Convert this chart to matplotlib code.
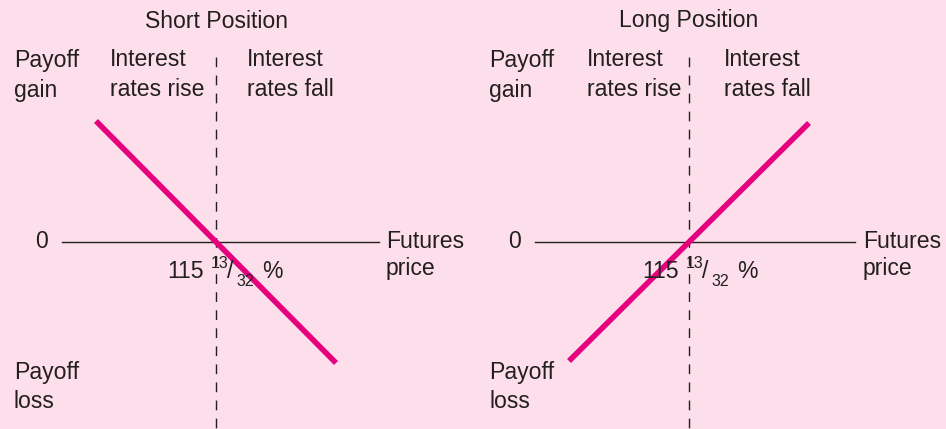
import matplotlib.pyplot as plt

plt.rcParams['font.family'] = ['Liberation Sans', 'DejaVu Sans']

# price measured from the 115 13/32 % strike, payoff in matching units
price_pts = [-120, 120]
short_payoff = [121, -121]
long_payoff = [-119, 119]
panels = [('Short Position', short_payoff), ('Long Position', long_payoff)]

bg = '#FCDFEA'
pink = '#E6007E'
ink = '#231F20'
fs = 16.6
small = 11.5

fig = plt.figure(figsize=(9.46, 4.29), dpi=100, facecolor=bg)

for k, (title, payoff) in enumerate(panels):
    ax = fig.add_axes([k * 0.5, 0, 0.5, 1])
    ax.set_facecolor(bg)
    ax.set_xlim(-216, 257)
    ax.set_ylim(-187, 242)
    ax.axis('off')
    dx = 2 * k

    ax.plot([-154, 163 + 3 * k], [0, 0], color=ink, lw=1)
    ax.plot([0, 0], [185, -190], color=ink, lw=1, ls=(0, (7, 6)))
    ax.plot(price_pts, payoff, color=pink, lw=4, solid_capstyle='butt')

    ax.text(0, 221, title, ha='center', va='center', fontsize=fs, color=ink)
    ax.text(-202 + dx, 182, 'Payoff', va='center', fontsize=fs, color=ink)
    ax.text(-202 + dx, 152, 'gain', va='center', fontsize=fs, color=ink)
    ax.text(-106 + dx * 2, 182, 'Interest', va='center', fontsize=fs, color=ink)
    ax.text(-106 + dx * 2, 152, 'rates rise', va='center', fontsize=fs, color=ink)
    ax.text(31 + dx * 2, 182, 'Interest', va='center', fontsize=fs, color=ink)
    ax.text(31 + dx * 2, 152, 'rates fall', va='center', fontsize=fs, color=ink)
    ax.text(-168, 0, '0', ha='right', va='center', fontsize=fs, color=ink)
    ax.text(170 + 4 * k, 0, 'Futures', va='center', fontsize=fs, color=ink)
    ax.text(170 + 4 * k, -26, 'price', va='center', fontsize=fs, color=ink)
    ax.text(-202 + dx, -130, 'Payoff', va='center', fontsize=fs, color=ink)
    ax.text(-202 + dx, -159, 'loss', va='center', fontsize=fs, color=ink)

    ax.text(-49 + dx, -30, '115', va='center', fontsize=fs, color=ink)
    ax.text(-5 + dx, -21, '13', va='center', fontsize=small, color=ink)
    ax.text(11 + dx, -30, '/', va='center', fontsize=fs, color=ink)
    ax.text(20 + dx, -39, '32', va='center', fontsize=small, color=ink)
    ax.text(46 + dx, -30, '%', va='center', fontsize=fs, color=ink)

fig.savefig('out.png', dpi=100, facecolor=bg)
